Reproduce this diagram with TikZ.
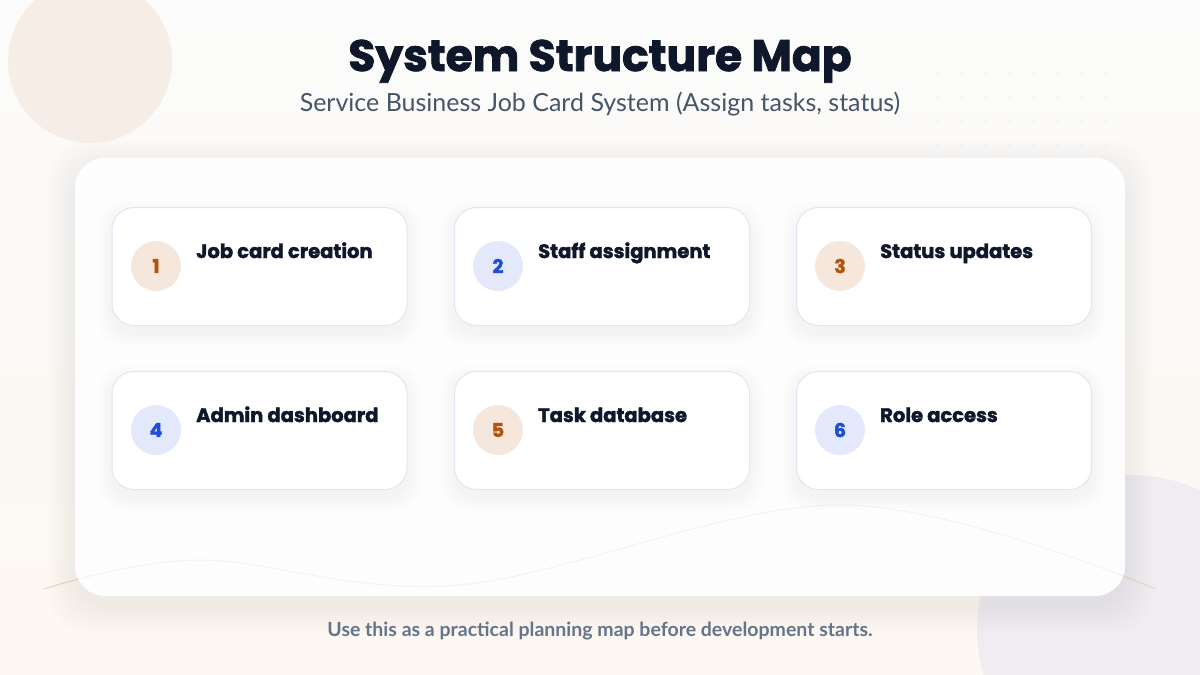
\documentclass[tikz,border=0pt]{standalone}
\usepackage{fontspec}
\setmainfont{Lato}
\newfontfamily\heavy{Poppins}[BoldFeatures={FakeBold=1.8}]
\pgfdeclarelayer{back}
\pgfdeclarelayer{mid}
\pgfsetlayers{back,mid,main}

\definecolor{ink}{HTML}{0F172A}
\definecolor{slate}{HTML}{475569}
\definecolor{mute}{HTML}{64748B}
\definecolor{peach}{HTML}{F6E7DC}
\definecolor{rust}{HTML}{B45309}
\definecolor{sky}{HTML}{E3E9FA}
\definecolor{royal}{HTML}{1D4ED8}
\definecolor{cardline}{HTML}{E0E7F4}
\definecolor{shadowc}{HTML}{1E293B}
\definecolor{bgtop}{HTML}{FBFBFB}
\definecolor{bgbot}{HTML}{FDF8F1}
\definecolor{blobA}{HTML}{F6EEE6}
\definecolor{blobB}{HTML}{EFEDF1}
\definecolor{dotc}{HTML}{EEF1F5}
\definecolor{wave}{HTML}{E9D6C4}

\begin{document}
\begin{tikzpicture}[x=1pt,y=-1pt,
  panel/.style={fill=white, fill opacity=0.94, rounded corners=30pt, minimum width=1050pt, minimum height=438pt},
  card/.style={draw=cardline, line width=1pt, fill=white, rounded corners=22pt, minimum width=295pt, minimum height=118pt},
  odd/.style={circle, fill=peach, text=rust, minimum size=50pt, inner sep=0pt, font=\heavy\bfseries\fontsize{19}{19}\selectfont},
  even/.style={circle, fill=sky, text=royal, minimum size=50pt, inner sep=0pt, font=\heavy\bfseries\fontsize{19}{19}\selectfont},
  head/.style={anchor=base west, inner sep=0pt, text=ink, font=\heavy\bfseries\fontsize{19.5}{21}\selectfont}]

\useasboundingbox (0,0) rectangle (1200,675);

% panel and everything behind it
\begin{pgfonlayer}{back}
\shade[top color=bgtop, bottom color=bgbot] (0,0) rectangle (1200,675);
\fill[blobA] (90,61) circle (82);
\fill[blobB] (1132,630) circle (155);
\foreach \i in {0,...,7} \foreach \j in {0,...,3}
  \fill[dotc] (938+24*\i,74+24*\j) circle (1.3);
\draw[wave, line width=1pt] plot[smooth, tension=0.6] coordinates {(44,589) (199,560) (459,585) (842,505) (1156,589)};
\foreach \k in {1,...,14}
  \fill[shadowc, opacity=0.005, rounded corners=40pt] ({75-2*\k},{158-2*\k+10}) rectangle ({1125+2*\k},{596+2*\k+10});
\node[panel] (panel) at (600,377) {};
\end{pgfonlayer}

% titles
\node[anchor=base, inner sep=0pt, text=ink, font=\heavy\bfseries\fontsize{44}{46}\selectfont] (title) at (600,71) {System Structure Map};
\node[anchor=base, inner sep=0pt, text=slate, font=\fontsize{25}{28}\selectfont] (sub) at (600,111) {Service Business Job Card System (Assign tasks, status)};

% cards, row one
\node[card] (c1) at (259.5,266.5) {};
\node[card] (c2) at (602,266.5) {};
\node[card] (c3) at (944,266.5) {};
\node[odd] (n1) at (156,266) {1};
\node[even] (n2) at (498,266) {2};
\node[odd] (n3) at (840,266) {3};
\node[head] (h1) at (196,258) {Job card creation};
\node[head] (h2) at (538,258) {Staff assignment};
\node[head] (h3) at (880,258) {Status updates};

% cards, row two
\node[card] (c4) at (259.5,430.5) {};
\node[card] (c5) at (602,430.5) {};
\node[card] (c6) at (944,430.5) {};
\node[even] (n4) at (156,430) {4};
\node[odd] (n5) at (498,430) {5};
\node[even] (n6) at (840,430) {6};
\node[head] (h4) at (196,422) {Admin dashboard};
\node[head] (h5) at (538,422) {Task database};
\node[head] (h6) at (880,422) {Role access};

% soft shadows under the cards, faint wave through the panel
\begin{pgfonlayer}{mid}
\draw[wave, line width=1pt, opacity=0.25] plot[smooth, tension=0.6] coordinates {(44,589) (199,560) (459,585) (842,505) (1156,589)};
\foreach \c in {c1,c2,c3,c4,c5,c6} \foreach \k in {1,...,9}
  \fill[shadowc, opacity=0.005, rounded corners=26pt]
    ([shift={({-1.5*\k*1pt},{1.5*\k*1pt-7pt})}]\c.north west) rectangle ([shift={({1.5*\k*1pt},{-1.5*\k*1pt-7pt})}]\c.south east);
\end{pgfonlayer}

% footer
\node[anchor=base, inner sep=0pt, text=mute, font=\bfseries\fontsize{19.5}{22}\selectfont] (foot) at (600,636) {Use this as a practical planning map before development starts.};
\end{tikzpicture}
\end{document}
